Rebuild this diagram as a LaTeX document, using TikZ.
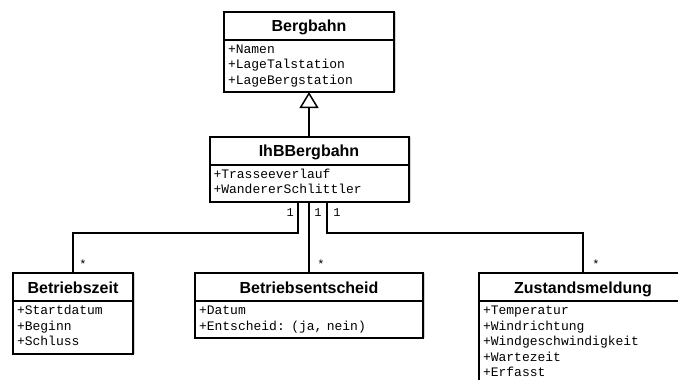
\documentclass[tikz,border=0pt]{standalone}
\usepackage{fontspec}
\setmainfont{Liberation Sans}
\newfontfamily\umlmono{Liberation Mono}
\usetikzlibrary{positioning,arrows.meta,calc,shadows}

\tikzset{
  classhead/.style={draw=black, line width=2pt, fill=white, minimum height=28pt,
    inner sep=0pt, outer sep=0pt, text height=12pt, text depth=0pt,
    font=\fontsize{16}{18}\selectfont\bfseries,
    drop shadow={shadow xshift=2pt, shadow yshift=0pt, fill=gray!70}},
  classattr/.style={draw=black, line width=2pt, fill=white, inner xsep=4pt, inner ysep=3pt,
    outer sep=0pt, align=left, font=\umlmono\fontsize{13}{15.5}\selectfont,
    execute at begin node=\strut, execute at end node=\strut,
    drop shadow={shadow xshift=2pt, shadow yshift=0pt, fill=gray!70}},
  mult/.style={inner sep=0pt, font=\umlmono\fontsize{12}{12}\selectfont},
  assoc/.style={draw=black, line width=2pt}
}

\begin{document}
\begin{tikzpicture}[x=1pt, y=-1pt]
  \clip (0,0) rectangle (678,380);
  \fill[white] (0,0) rectangle (678,380);

  \node [classhead, minimum width=170pt] (bahn) at (309,25.5) {Bergbahn};
  \node [classattr, text width=162pt, below=0pt of bahn] (bahnattr)
    {+Namen\\+LageTalstation\\+LageBergstation};

  \node [classhead, minimum width=199pt] (ihb) at (309,150.5) {IhBBergbahn};
  \node [classattr, text width=191pt, below=0pt of ihb] (ihbattr)
    {+Trasseeverlauf\\+WandererSchlittler};

  \node [classhead, minimum width=120pt] (zeit) at (73,287) {Betriebszeit};
  \node [classattr, text width=112pt, below=0pt of zeit] (zeitattr)
    {+Startdatum\\+Beginn\\+Schluss};

  \node [classhead, minimum width=228pt] (entscheid) at (309,287) {Betriebsentscheid};
  \node [classattr, text width=220pt, below=0pt of entscheid] (entscheidattr)
    {+Datum\\+Entscheid: (ja, nein)};

  \node [classhead, minimum width=208pt] (zustand) at (583,287) {Zustandsmeldung};
  \node [classattr, text width=200pt, below=0pt of zustand] (zustandattr)
    {+Temperatur\\+Windrichtung\\+Windgeschwindigkeit\\+Wartezeit\\+Erfasst};

  \draw [assoc, -{Triangle[open, length=16pt, width=19pt, line width=1.5pt]}]
    (ihb.north) -- (bahnattr.south);

  \coordinate (ihbL) at ($(ihbattr.south)+(-11,0)$);
  \coordinate (ihbR) at ($(ihbattr.south)+(18,0)$);
  \draw [assoc] (ihbL) |- ($(zeit.north)+(0,-40)$) -- (zeit.north);
  \draw [assoc] (ihbattr.south) -- (entscheid.north);
  \draw [assoc] (ihbR) |- ($(zustand.north)+(0,-40)$) -- (zustand.north);

  \node [mult, anchor=east] (m1) at ($(ihbL)+(-4,11)$) {1};
  \node [mult] (m2) at ($(ihbattr.south)+(9,11)$) {1};
  \node [mult] (m3) at ($(ihbR)+(10,11)$) {1};
  \node [mult] (s1) at ($(zeit.north)+(10,-9)$) {*};
  \node [mult] (s2) at ($(entscheid.north)+(12,-9)$) {*};
  \node [mult] (s3) at ($(zustand.north)+(13,-9)$) {*};
\end{tikzpicture}
\end{document}
